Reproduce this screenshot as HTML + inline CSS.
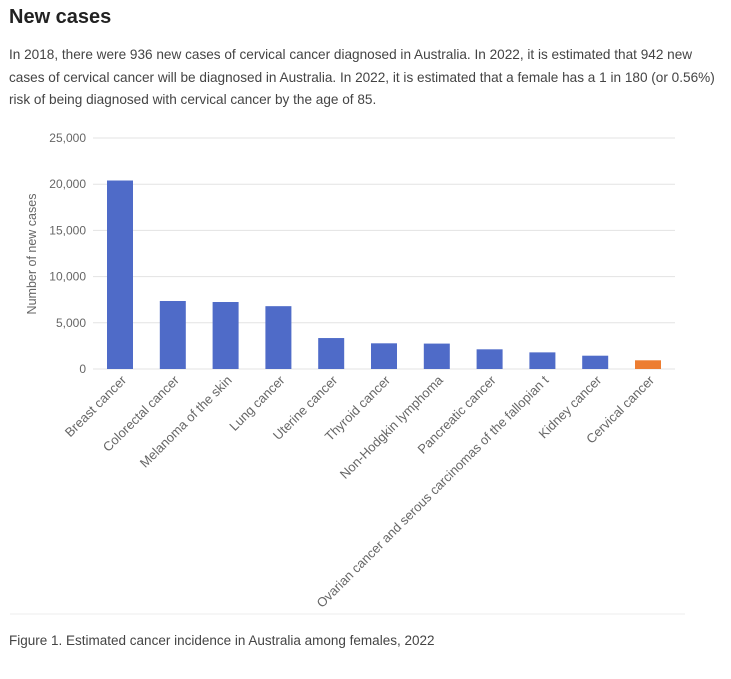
<!DOCTYPE html>
<html><head><meta charset="utf-8"><style>
body{margin:0;width:731px;height:679px;background:#fff;font-family:"Liberation Sans",sans-serif;color:#333;overflow:hidden;position:relative}
h2{position:absolute;left:9px;top:6px;margin:0;font-size:20px;font-weight:bold;color:#222}
p.intro{position:absolute;left:9px;top:44px;width:717px;margin:0;font-size:13.6px;line-height:22.5px;color:#444}
.cap{position:absolute;left:9px;top:633px;font-size:13.5px;color:#444}
svg{position:absolute;left:0;top:0}
</style></head><body>
<h2>New cases</h2>
<p class="intro">In 2018, there were 936 new cases of cervical cancer diagnosed in Australia. In 2022, it is estimated that 942 new cases of cervical cancer will be diagnosed in Australia. In 2022, it is estimated that a female has a 1 in 180 (or 0.56%) risk of being diagnosed with cervical cancer by the age of 85.</p>
<svg id="chart" width="731" height="679"></svg>
<div class="cap">Figure 1. Estimated cancer incidence in Australia among females, 2022</div>
<script>
const categories=["Breast cancer","Colorectal cancer","Melanoma of the skin","Lung cancer","Uterine cancer","Thyroid cancer","Non-Hodgkin lymphoma","Pancreatic cancer","Ovarian cancer and serous carcinomas of the fallopian t","Kidney cancer","Cervical cancer"];
const values=[20400,7360,7250,6800,3350,2780,2750,2130,1800,1440,942];
const tickValues=[0,5000,10000,15000,20000,25000];
const tickLabels=["0","5,000","10,000","15,000","20,000","25,000"];
const NS="http://www.w3.org/2000/svg";
const svg=document.getElementById('chart');
const x0=93,x1=675,y0=369,yTop=138,maxV=25000;
const yScale=v=>y0-(v/maxV)*(y0-yTop);
const step=52.8,firstC=120,barW=26;
const xScale=i=>firstC+i*step;
function mk(t,a){const e=document.createElementNS(NS,t);for(const k in a)e.setAttribute(k,a[k]);svg.appendChild(e);return e;}
tickValues.forEach((v,i)=>{
 const l=mk('line',{x1:x0,x2:x1,y1:yScale(v),y2:yScale(v),stroke:'#e3e3e3','stroke-width':1});
 
 
 const t=mk('text',{x:86,y:yScale(v)+4,'text-anchor':'end','font-size':12,fill:'#666','font-family':'Liberation Sans, sans-serif'});
 t.textContent=tickLabels[i];
 
 
});
const yt=mk('text',{x:0,y:0,transform:'translate(36,254) rotate(-90)','text-anchor':'middle','font-size':12.5,fill:'#666','font-family':'Liberation Sans, sans-serif'});
yt.textContent='Number of new cases';


values.forEach((v,i)=>{
 const cx=xScale(i);
 const r=mk('rect',{x:cx-barW/2,y:yScale(v),width:barW,height:y0-yScale(v),fill:i===values.length-1?'#ed7d31':'#4f6bc8'});
 
 
 const t=mk('text',{x:0,y:0,transform:`translate(${cx+7},${y0+12}) rotate(-45)`,'text-anchor':'end','font-size':13,fill:'#666','font-family':'Liberation Sans, sans-serif'});
 t.textContent=categories[i];
 
 
});
const b=mk('line',{x1:10,x2:685,y1:614,y2:614,stroke:'#eee','stroke-width':1});


</script>
</body></html>
